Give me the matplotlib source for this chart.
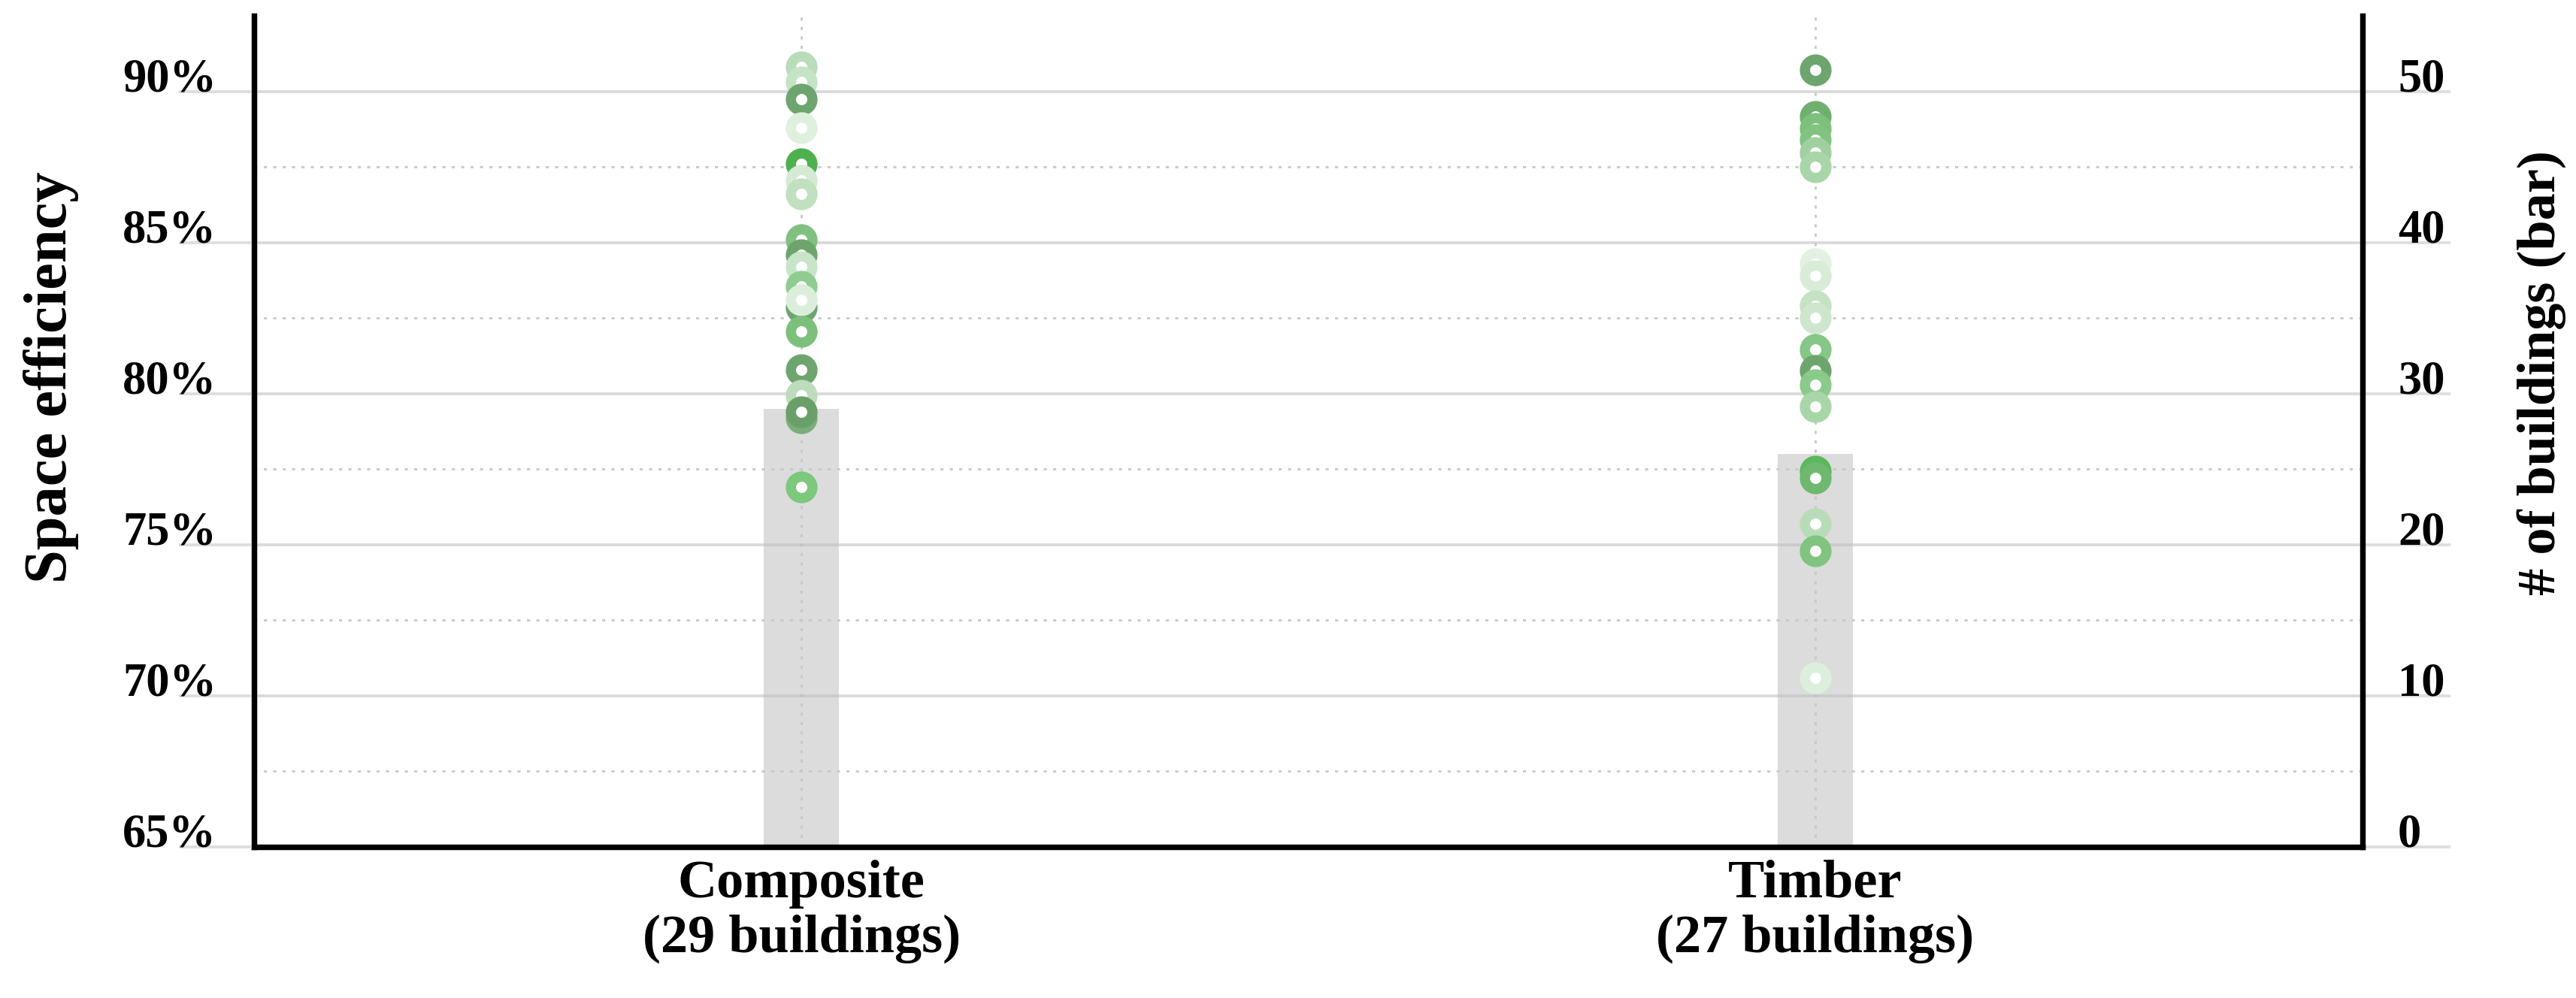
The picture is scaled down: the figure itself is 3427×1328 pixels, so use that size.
import numpy as np
import matplotlib
matplotlib.use("Agg")
import matplotlib.pyplot as plt
from matplotlib.ticker import FixedLocator

# data
categories = ["Composite", "Timber"]
n_buildings = [29, 27]
bar_counts = [29, 26]

composite_eff = [90.8, 90.3, 89.75, 88.8, 87.6, 87.06, 86.6, 85.1, 84.6, 84.2,
                 83.55, 82.85, 83.1, 82.05, 80.8, 79.94, 79.2, 79.4, 76.9]
composite_col = ["#b9dcb9", "#c5e3c5", "#6ea56e", "#dff0df", "#4fb04f", "#d4ead4",
                 "#c0e0c0", "#80c080", "#6ea56e", "#c9e5c9", "#8fcc8f", "#6ea56e",
                 "#dbeedb", "#7cc07c", "#6ea56e", "#bcdcbc", "#7aae7a", "#6a9f6a",
                 "#7cc87c"]

timber_eff = [90.71, 89.18, 88.78, 88.4, 87.98, 87.5, 84.3, 83.9, 82.9, 82.5,
              81.46, 80.76, 80.3, 79.57, 77.43, 77.2, 75.7, 74.8, 70.6]
timber_col = ["#6ea56e", "#6fb06f", "#7cc07c", "#80c480", "#a0d0a0", "#a8d6a8",
              "#e2f1e2", "#d8ecd8", "#c4e2c4", "#cde6cd", "#86c686", "#6ea56e",
              "#8aca8a", "#a8d6a8", "#5cb85c", "#6fb86f", "#b8dcb8", "#80c480",
              "#dcefdc"]

left_ticks = [65, 70, 75, 80, 85, 90]
right_ticks = [0, 10, 20, 30, 40, 50]

plt.rcParams["font.family"] = ["Liberation Serif", "DejaVu Serif"]
plt.rcParams["font.weight"] = "bold"
plt.rcParams["axes.labelweight"] = "bold"

DPI = 200
fig = plt.figure(figsize=(3427 / DPI, 1328 / DPI), dpi=DPI)
ax = fig.add_axes([0.0986, 0.1514, 0.8185, 0.8328])
ax2 = ax.twinx()
ax.set_zorder(ax2.get_zorder() + 1)
ax.patch.set_visible(False)

x = np.arange(len(categories))

# bars (right axis)
ax2.bar(x, bar_counts, width=0.074, color="#dcdcdc", zorder=1)
ax2.set_ylim(0, 55)
ax2.set_yticks(right_ticks)
ax2.set_yticklabels([str(t) for t in right_ticks], fontsize=22.5)

# points (left axis)
for xi, vals, cols in [(0, composite_eff, composite_col), (1, timber_eff, timber_col)]:
    for v, c in zip(vals, cols):
        ax.plot([xi], [v], marker="o", ms=10.3, mew=4.9, mfc="white", mec=c,
                linestyle="none", zorder=5)

ax.set_xlim(-0.54, 1.54)
ax.set_ylim(65, 92.5)
ax.set_yticks(left_ticks)
ax.set_yticklabels([f"{t}%" for t in left_ticks], fontsize=22.5)
ax.yaxis.set_minor_locator(FixedLocator([67.5, 72.5, 77.5, 82.5, 87.5]))
ax.set_xticks(x)
ax.set_xticklabels([f"{c}\n({n} buildings)" for c, n in zip(categories, n_buildings)],
                   fontsize=26, linespacing=1.15)

# grid
ax.grid(axis="y", which="major", color="#bdbdbd", alpha=0.55, lw=1.4, zorder=0)
ax.grid(axis="y", which="minor", color="#c8c8c8", lw=1.0, linestyle=(0, (1.5, 3)), zorder=0)
ax.grid(axis="x", which="major", color="#c8c8c8", lw=1.0, linestyle=(0, (1.5, 3)), zorder=0)

# ticks as light gray lines under the labels
ax.tick_params(axis="y", which="major", length=36, width=1.4, color="#dedede", pad=-18)
ax.tick_params(axis="y", which="minor", length=0)
ax.tick_params(axis="x", length=0, pad=6)
ax2.tick_params(axis="y", which="major", length=42, width=1.4, color="#dedede", pad=-25)
plt.setp(ax.get_yticklabels(), va="baseline")
plt.setp(ax2.get_yticklabels(), va="baseline")

for a in (ax, ax2):
    a.spines["top"].set_visible(False)
    for s in ("left", "right", "bottom"):
        a.spines[s].set_linewidth(2.6)
        a.spines[s].set_color("black")

ax.set_ylabel("Space efficiency", fontsize=29)
ax2.set_ylabel("# of buildings (bar)", fontsize=26)
ax.yaxis.set_label_coords(-0.083, 0.565)
ax2.yaxis.set_label_coords(1.073, 0.57)

fig.savefig("out.png", dpi=DPI, facecolor="white")
